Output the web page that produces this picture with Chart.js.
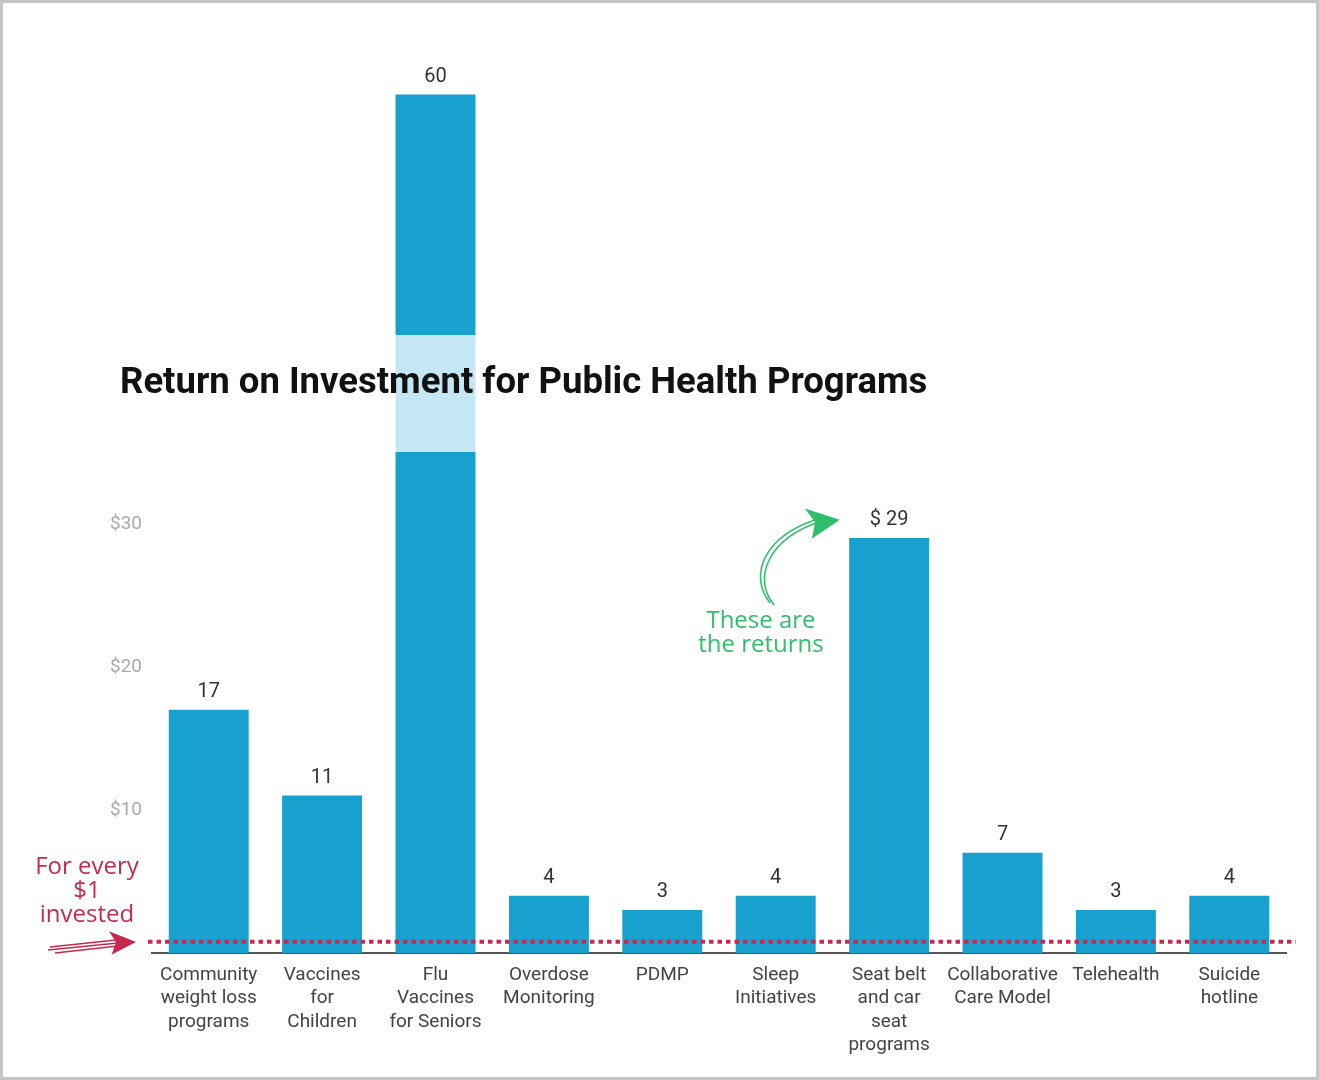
<!DOCTYPE html>
<html>
<head>
<meta charset="utf-8">
<title>Return on Investment for Public Health Programs</title>
<script src="https://cdn.jsdelivr.net/npm/chart.js@4"></script>
<style>
    html, body { margin: 0; padding: 0; background: #fff; }
    #wrap { width: 1319px; height: 1080px; position: relative; }
</style>
</head>
<body>
<div id="wrap"><canvas id="roiChart"></canvas></div>
<script>
"use strict";

// programs along the x axis (multi-line labels)
const programs = [
    ["Community", "weight loss", "programs"],
    ["Vaccines", "for", "Children"],
    ["Flu", "Vaccines", "for Seniors"],
    ["Overdose", "Monitoring"],
    ["PDMP"],
    ["Sleep", "Initiatives"],
    ["Seat belt", "and car", "seat", "programs"],
    ["Collaborative", "Care Model"],
    ["Telehealth"],
    ["Suicide", "hotline"]
];

// dollars returned per $1 invested
const returns = [17, 11, 60, 4, 3, 4, 29, 7, 3, 4];
const valueLabels = ["17", "11", "60", "4", "3", "4", "$ 29", "7", "3", "4"];

const yTicks = [10, 20, 30];
const investedLine = 1;

const chartTitle = "Return on Investment for Public Health Programs";
const redNote = ["For every", "$1", "invested"];
const greenNote = ["These are", "the returns"];

const barColor = "#18a0cf";
const redColor = "#c52a4e";
const greenColor = "#2fbf6a";

const valueLabelPlugin = {
    id: "valueLabels",
    afterDatasetsDraw(chart) {
        const ctx = chart.ctx;
        const meta = chart.getDatasetMeta(0);
        ctx.save();
        ctx.font = "20px Roboto";
        ctx.fillStyle = "#333";
        ctx.textAlign = "center";
        ctx.textBaseline = "bottom";
        meta.data.forEach((bar, i) => {
            ctx.fillText(valueLabels[i], bar.x, bar.y - 8);
        });
        ctx.restore();
    }
};

const annotationPlugin = {
    id: "annotations",
    afterDatasetsDraw(chart) {
        const ctx = chart.ctx;
        const yScale = chart.scales.y;

        // dotted $1 line
        const yLine = yScale.getPixelForValue(investedLine) + 3;
        ctx.save();
        ctx.strokeStyle = redColor;
        ctx.lineWidth = 4;
        ctx.setLineDash([4.5, 4]);
        ctx.beginPath();
        ctx.moveTo(148, yLine);
        ctx.lineTo(1296, yLine);
        ctx.stroke();
        ctx.setLineDash([]);

        // title with a pale band behind it
        ctx.fillStyle = "rgba(255,255,255,0.75)";
        ctx.fillRect(120, 335, 812, 117);
        ctx.fillStyle = "#111";
        ctx.font = "bold 36.5px Roboto";
        ctx.textAlign = "left";
        ctx.textBaseline = "middle";
        ctx.fillText(chartTitle, 120, 384);

        // red note + arrow
        ctx.fillStyle = redColor;
        ctx.font = "24px 'Open Sans'";
        ctx.textAlign = "center";
        redNote.forEach((line, i) => ctx.fillText(line, 87, 867 + i * 24));
        ctx.strokeStyle = redColor;
        ctx.lineWidth = 1.6;
        ctx.beginPath();
        ctx.moveTo(48, 950); ctx.lineTo(118, 943);
        ctx.moveTo(50, 947); ctx.lineTo(116, 940);
        ctx.moveTo(55, 953); ctx.lineTo(118, 946);
        ctx.stroke();
        ctx.beginPath();
        ctx.moveTo(134, 942); ctx.lineTo(111, 933); ctx.lineTo(117, 942); ctx.lineTo(113, 953);
        ctx.closePath();
        ctx.fill();
        ctx.stroke();

        // green note + curved arrow
        ctx.fillStyle = greenColor;
        greenNote.forEach((line, i) => ctx.fillText(line, 761, 621 + i * 24));
        ctx.strokeStyle = greenColor;
        ctx.lineWidth = 1.6;
        ctx.beginPath();
        ctx.moveTo(774, 605);
        ctx.bezierCurveTo(752, 578, 768, 538, 822, 521);
        ctx.moveTo(770, 603);
        ctx.bezierCurveTo(748, 575, 764, 536, 818, 519);
        ctx.stroke();
        ctx.beginPath();
        ctx.moveTo(838, 520); ctx.lineTo(807, 510); ctx.lineTo(816, 522); ctx.lineTo(813, 537);
        ctx.closePath();
        ctx.fill();
        ctx.stroke();
        ctx.restore();
    },
    afterDraw(chart) {
        // grey frame round the picture
        const ctx = chart.ctx;
        ctx.save();
        ctx.strokeStyle = "#c6c6c6";
        ctx.lineWidth = 3;
        ctx.strokeRect(1.5, 1.5, chart.width - 3, chart.height - 3);
        ctx.restore();
    }
};

const renderChart = () => {
    const ctx = document.getElementById("roiChart");

    new Chart(ctx, {
        type: "bar",
        data: {
            labels: programs,
            datasets: [{
                label: "Return per $1 invested",
                data: returns,
                backgroundColor: barColor,
                borderWidth: 0,
                categoryPercentage: 1,
                barPercentage: 0.705
            }]
        },
        options: {
            responsive: true,
            maintainAspectRatio: false,
            animation: false,
            layout: {
                padding: { top: 23, right: 33, bottom: 0, left: 0 }
            },
            plugins: {
                legend: { display: false },
                tooltip: { enabled: false },
                title: { display: false }
            },
            scales: {
                x: {
                    grid: { display: false, drawTicks: false },
                    border: { display: true, color: "#555", width: 2 },
                    ticks: {
                        color: "#444",
                        font: { family: "Roboto", size: 19, lineHeight: 1.24 },
                        padding: 10,
                        maxRotation: 0,
                        autoSkip: false
                    },
                    afterFit: (scale) => { scale.height = 127; }
                },
                y: {
                    min: 0,
                    max: 65,
                    grid: { display: false, drawTicks: false },
                    border: { display: false },
                    afterBuildTicks: (scale) => {
                        scale.ticks = yTicks.map(v => ({ value: v }));
                    },
                    ticks: {
                        color: "#aaa",
                        font: { family: "Roboto", size: 19 },
                        padding: 10,
                        callback: (value) => "$" + value
                    },
                    afterFit: (scale) => { scale.width = 152; }
                }
            }
        },
        plugins: [valueLabelPlugin, annotationPlugin]
    });
};

document.addEventListener("DOMContentLoaded", () => {
    renderChart();
});
</script>
</body>
</html>
